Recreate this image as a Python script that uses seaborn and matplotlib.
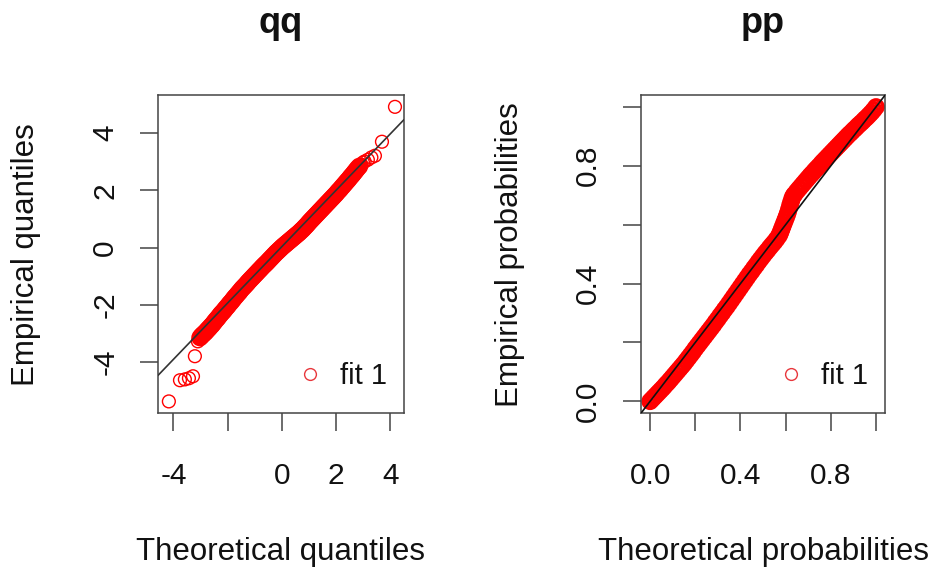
"""
QQ and PP comparison plots for fit 1 (R fitdistrplus style).
"""

# Dependencies
import pandas as pd
import seaborn as sns
import matplotlib
matplotlib.use('Agg')
import matplotlib.pyplot as plt
from matplotlib.lines import Line2D

# QQ data: theoretical vs empirical quantiles
qq_theo = [-4.17, -3.76, -3.58, -3.43, -3.28, -3.21, -3.10,
           -3.02, -2.97, -2.93, -2.88, -2.84, -2.79, -2.75, -2.70, -2.66, -2.61,
           -2.57, -2.52, -2.48, -2.43, -2.38, -2.34, -2.29, -2.25, -2.20, -2.15,
           -2.11, -2.06, -2.01, -1.97, -1.92, -1.87, -1.82, -1.78, -1.73, -1.68,
           -1.63, -1.58, -1.54, -1.49, -1.44, -1.39, -1.34, -1.29, -1.25, -1.20,
           -1.15, -1.10, -1.05, -1.00, -0.95, -0.90, -0.85, -0.80, -0.75, -0.70,
           -0.65, -0.60, -0.55, -0.50, -0.45, -0.40, -0.35, -0.30, -0.25, -0.20,
           -0.15, -0.10, -0.05, 0.00, 0.05, 0.10, 0.15, 0.20, 0.25, 0.30,
           0.35, 0.40, 0.45, 0.50, 0.55, 0.60, 0.65, 0.70, 0.75, 0.80,
           0.85, 0.90, 0.95, 1.00, 1.05, 1.10, 1.15, 1.20, 1.25, 1.30,
           1.35, 1.40, 1.45, 1.50, 1.55, 1.60, 1.65, 1.70, 1.75, 1.80,
           1.85, 1.90, 1.95, 2.00, 2.05, 2.10, 2.15, 2.20, 2.25, 2.30,
           2.35, 2.40, 2.45, 2.50, 2.55, 2.60, 2.65, 2.70, 2.75, 2.80, 2.86,
           2.93, 2.99, 3.05, 3.17, 3.30, 3.43, 3.69, 4.17]
qq_emp = [-5.38, -4.64, -4.61, -4.57, -4.50, -3.80, -3.28,
          -3.15, -3.09, -3.06, -3.01, -2.98, -2.93, -2.88, -2.84, -2.79, -2.74,
          -2.70, -2.64, -2.59, -2.53, -2.48, -2.43, -2.37, -2.32, -2.27, -2.22,
          -2.17, -2.11, -2.06, -2.01, -1.95, -1.90, -1.84, -1.79, -1.73, -1.68,
          -1.62, -1.57, -1.52, -1.46, -1.41, -1.36, -1.31, -1.26, -1.21, -1.16,
          -1.11, -1.06, -1.01, -0.96, -0.91, -0.86, -0.81, -0.76, -0.71, -0.66,
          -0.61, -0.57, -0.52, -0.47, -0.42, -0.37, -0.32, -0.27, -0.22, -0.17,
          -0.13, -0.08, -0.04, 0.01, 0.05, 0.09, 0.13, 0.17, 0.21, 0.25,
          0.29, 0.33, 0.37, 0.41, 0.45, 0.49, 0.53, 0.58, 0.62, 0.67,
          0.72, 0.77, 0.82, 0.88, 0.93, 0.98, 1.03, 1.08, 1.13, 1.18,
          1.23, 1.28, 1.33, 1.38, 1.43, 1.48, 1.53, 1.58, 1.63, 1.68,
          1.73, 1.78, 1.83, 1.88, 1.94, 1.99, 2.04, 2.10, 2.15, 2.21,
          2.26, 2.32, 2.37, 2.43, 2.49, 2.54, 2.60, 2.66, 2.72, 2.78, 2.84,
          2.90, 2.97, 3.01, 3.07, 3.15, 3.21, 3.70, 4.92]
qq_line_x = [-4.57, 4.50]
qq_line_y = [-4.47, 4.47]

# PP data: theoretical vs empirical probabilities
pp_theo = [0.00, 0.01, 0.02, 0.03, 0.04, 0.05, 0.06, 0.07, 0.08, 0.09,
           0.10, 0.11, 0.12, 0.13, 0.14, 0.15, 0.16, 0.17, 0.18, 0.19,
           0.20, 0.21, 0.22, 0.23, 0.24, 0.25, 0.26, 0.27, 0.28, 0.29,
           0.30, 0.31, 0.32, 0.33, 0.34, 0.35, 0.36, 0.37, 0.38, 0.39,
           0.40, 0.41, 0.42, 0.43, 0.44, 0.45, 0.46, 0.47, 0.48, 0.49,
           0.50, 0.51, 0.52, 0.53, 0.54, 0.55, 0.56, 0.57, 0.575, 0.58,
           0.585, 0.59, 0.595, 0.60, 0.605, 0.61, 0.615, 0.62, 0.625, 0.63,
           0.635, 0.64, 0.65, 0.66, 0.67, 0.68, 0.69,
           0.70, 0.71, 0.72, 0.73, 0.74, 0.75, 0.76, 0.77, 0.78, 0.79,
           0.80, 0.81, 0.82, 0.83, 0.84, 0.85, 0.86, 0.87, 0.88, 0.89,
           0.90, 0.91, 0.92, 0.93, 0.94, 0.95, 0.96, 0.97, 0.98, 0.99, 1.00]
pp_emp = [0.000, 0.008, 0.016, 0.024, 0.032, 0.040, 0.048, 0.057, 0.065, 0.074,
          0.083, 0.092, 0.101, 0.110, 0.119, 0.128, 0.138, 0.148, 0.158, 0.168,
          0.179, 0.189, 0.199, 0.209, 0.219, 0.229, 0.239, 0.249, 0.259, 0.270,
          0.280, 0.291, 0.301, 0.312, 0.322, 0.333, 0.344, 0.355, 0.366, 0.377,
          0.388, 0.399, 0.410, 0.421, 0.432, 0.442, 0.453, 0.463, 0.474, 0.484,
          0.494, 0.504, 0.513, 0.523, 0.532, 0.541, 0.551, 0.562, 0.570, 0.580,
          0.590, 0.600, 0.610, 0.620, 0.630, 0.641, 0.654, 0.668, 0.680, 0.692,
          0.699, 0.704, 0.714, 0.723, 0.732, 0.741, 0.750,
          0.759, 0.768, 0.776, 0.785, 0.793, 0.801, 0.810, 0.818, 0.826, 0.834,
          0.842, 0.850, 0.858, 0.866, 0.874, 0.882, 0.890, 0.898, 0.906, 0.913,
          0.921, 0.928, 0.936, 0.943, 0.950, 0.958, 0.965, 0.973, 0.981, 0.990, 1.000]
pp_line_x = [-0.04, 1.04]
pp_line_y = [-0.04, 1.04]

# Tick labels (R drops the ones that would overlap)
qq_xticks = [-4, -2, 0, 2, 4]
qq_xlabels = ['-4', '', '0', '2', '4']
qq_yticks = [-4, -2, 0, 2, 4]
qq_ylabels = ['-4', '-2', '0', '2', '4']
pp_ticks = [0.0, 0.2, 0.4, 0.6, 0.8, 1.0]
pp_labels = ['0.0', '', '0.4', '', '0.8', '']

qq = pd.DataFrame({'theo': qq_theo, 'emp': qq_emp})
pp = pd.DataFrame({'theo': pp_theo, 'emp': pp_emp})
# dense middle part of the qq cloud (overlapping circles look solid there)
qq_body = qq[(qq['theo'] > -3.05) & (qq['theo'] < 2.9)]

sns.set_style('white')
plt.rcParams['font.family'] = ['Liberation Sans', 'DejaVu Sans']
plt.rcParams['text.color'] = '#111111'
plt.rcParams['axes.labelcolor'] = '#111111'

fig = plt.figure(figsize=(9.35, 5.73), dpi=100)
ax_qq = fig.add_axes([0.169, 0.279, 0.263, 0.555])
ax_pp = fig.add_axes([0.6856, 0.279, 0.261, 0.555])

box_col = '#444444'


def style_axes(ax, title, xlab, ylab, xlim, ylim, xt, xl, yt, yl, leg_x):
    ax.set_xlim(*xlim)
    ax.set_ylim(*ylim)
    ax.set_xticks(xt)
    ax.set_xticklabels(xl)
    ax.set_yticks(yt)
    ax.set_yticklabels(yl, rotation=90, va='center')
    ax.tick_params(axis='both', direction='out', length=13, width=1.1,
                   color=box_col, labelsize=21.5, labelcolor='#111111',
                   bottom=True, left=True)
    ax.tick_params(axis='x', pad=22)
    ax.tick_params(axis='y', pad=15)
    for sp in ax.spines.values():
        sp.set_visible(True)
        sp.set_color(box_col)
        sp.set_linewidth(1.1)
    ax.set_title(title, fontsize=26, fontweight='bold', pad=45)
    ax.set_xlabel(xlab, fontsize=22.5)
    ax.set_ylabel(ylab, fontsize=22.5)
    ax.xaxis.set_label_coords(0.5, -0.438)
    ax.xaxis.label.set_verticalalignment('center')
    ax.yaxis.set_label_coords(-0.535, 0.5)
    ax.yaxis.label.set_verticalalignment('center')
    handle = Line2D([], [], marker='o', ls='', mfc='none', mec='#e8383d',
                    mew=1.0, ms=8.5)
    ax.legend(handles=[handle], labels=['fit 1'], loc='center left',
              bbox_to_anchor=(leg_x, 0.116), frameon=False, fontsize=21,
              handlelength=1.0, handletextpad=0.55, borderpad=0,
              borderaxespad=0)


# QQ panel
sns.scatterplot(data=qq, x='theo', y='emp', ax=ax_qq, marker='o', s=85,
                facecolor='none', edgecolor='red', linewidth=1.0, zorder=2)
sns.scatterplot(data=qq_body, x='theo', y='emp', ax=ax_qq, marker='o', s=100,
                facecolor='none', edgecolor='red', linewidth=2.6, zorder=2)
sns.lineplot(x=qq_line_x, y=qq_line_y, ax=ax_qq, color='#333333',
             linewidth=1.2, zorder=3)
style_axes(ax_qq, 'qq', 'Theoretical quantiles', 'Empirical quantiles',
           (-4.57, 4.50), (-5.79, 5.33), qq_xticks, qq_xlabels,
           qq_yticks, qq_ylabels, 0.557)

# PP panel
sns.scatterplot(data=pp, x='theo', y='emp', ax=ax_pp, marker='o', s=100,
                facecolor='none', edgecolor='red', linewidth=2.6, zorder=2)
sns.lineplot(x=pp_line_x, y=pp_line_y, ax=ax_pp, color='#111111',
             linewidth=1.2, zorder=3)
style_axes(ax_pp, 'pp', 'Theoretical probabilities', 'Empirical probabilities',
           (-0.04, 1.04), (-0.04, 1.04), pp_ticks, pp_labels,
           pp_ticks, pp_labels, 0.553)

fig.savefig('out.png', dpi=100)
plt.close()
